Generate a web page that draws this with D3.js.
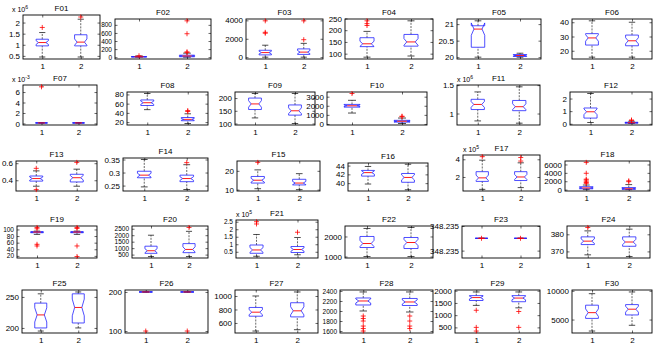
<!DOCTYPE html>
<html>
<head>
<meta charset="utf-8">
<script src="https://cdn.jsdelivr.net/npm/d3@7"></script>
<style>
  body { margin: 0; background: #fff; }
  text { font-family: "Liberation Sans", Arial, sans-serif; fill: #000; }
</style>
</head>
<body>
<svg id="chart" width="654" height="349"></svg>
<script>
// ---- data: one [run1, run2] pair per function, values in the units shown on each axis
var names = ["F01","F02","F03","F04","F05","F06","F07","F08","F09","F10",
             "F11","F12","F13","F14","F15","F16","F17","F18","F19","F20",
             "F21","F22","F23","F24","F25","F26","F27","F28","F29","F30"];

var exponents = [6,0,0,0,0,0,-3,0,0,0, 6,0,0,0,0,0,5,0,0,0, 5,0,0,0,0,0,0,0,0,0];

var whiskerLo = [[0.45,0.45],[0,0],[0,0],[85,90],[20.0,20.0],[15.5,15.5],[0.05,0.05],[47,17],[122,100],[1200,50],
                 [0.87,0.83],[0.1,0.02],[0.33,0.33],[0.245,0.235],[10.5,10],[39.8,38.5],[0.6,0.8],[0,0],[85,85],[350,350],
                 [0.2,0.3],[1000,1000],[348.23525,348.23525],[368,367],[195,200],[200,200],[480,500],[2000,1980],[1400,1300],[3000,4000]];

var q1 = [[0.95,0.95],[5,10],[250,300],[130,132],[20.3,20.02],[24,23.5],[0.08,0.08],[56,23],[155,133],[1850,200],
          [1.07,1.05],[0.45,0.05],[0.39,0.38],[0.28,0.265],[13.5,12.5],[41.6,40.2],[1.5,1.6],[200,100],[90,90],[600,650],
          [0.4,0.45],[1450,1400],[348.23525,348.23525],[374,373],[200,208],[200,200],[700,690],[2120,2110],[1600,1550],[5200,5800]];

var median = [[1.1,1.12],[10,30],[500,550],[142,150],[20.85,20.05],[29,27],[0.1,0.1],[62,26],[177,150],[2000,300],
              [1.16,1.12],[0.95,0.08],[0.42,0.43],[0.29,0.277],[15,13.5],[42.4,41.3],[1.9,2.0],[400,200],[92,92],[800,900],
              [0.62,0.65],[1650,1700],[348.23525,348.23525],[376,375.5],[221,233],[200,200],[760,780],[2200,2180],[1720,1700],[6200,6800]];

var q3 = [[1.25,1.45],[15,50],[750,900],[168,182],[20.95,20.08],[32,31],[0.12,0.12],[68,30],[200,173],[2150,400],
          [1.25,1.23],[1.25,0.12],[0.45,0.47],[0.305,0.29],[17,15.5],[42.9,42.2],[2.6,2.6],[700,500],[93,93],[1150,1350],
          [0.95,0.85],[2000,1950],[348.23525,348.23525],[378.5,378.5],[240,255],[200,200],[830,900],[2260,2250],[1800,1800],[7500,7600]];

var whiskerHi = [[1.55,2.15],[30,100],[1300,1500],[195,240],[21.1,20.12],[41,40],[0.15,0.15],[82,38],[218,218],[2600,650],
                 [1.38,1.47],[2.4,0.2],[0.51,0.53],[0.35,0.33],[20.5,18.5],[43.8,44.3],[3.9,3.6],[1100,1200],[95,95],[2000,2300],
                 [1.65,1.45],[2400,2450],[348.23525,348.23525],[382,383],[255,258],[200,200],[1000,1060],[2380,2380],[1950,1950],[9500,9800]];

var outliers = [[[1.78],[2.25]], [[35],[120,130,580,900]], [[2600,2700,3950],[1900,3950]], [[220,228,240],[]], [[],[]],
                [[],[]], [[7.0],[]], [[],[43,45]], [[],[]], [[3350],[800,850]],
                [[],[]], [[],[0.25,0.3]], [[0.54,0.29],[0.61]], [[],[0.338]], [[24.5],[]],
                [[],[]], [[4.3],[3.8,4.2]], [[1500,1700,2000,2300,2500,3900,6500],[1900,2100]], [[102,106,55,50],[103,106,50,18]], [[],[2600]],
                [[2.35,2.5],[1.8]], [[],[]], [[348.23525],[348.23525]], [[384],[]], [[],[]],
                [[100],[100]], [[],[]], [[1900,1850,1800,1700,1650,1600],[1900,1800,1700,1650]], [[1200,500,350],[1150,500]], [[],[]]];

var yTicks = [[0.5,1,1.5,2],[0,200,400,600,800],[0,2000,4000],[100,150,200,250],[20,20.5,21],[20,30,40],
              [0,2,4,6],[20,40,60,80],[100,150,200],[0,1000,2000,3000],[1,1.5],[0,1,2],
              [0.4,0.6],[0.25,0.3,0.35],[10,20],[40,42,44],[2,4],[0,2000,4000,6000],
              [20,40,60,80,100],[500,1000,1500,2000,2500],[0.5,1,1.5,2,2.5],[1000,2000],[348.2352,348.2353],[370,380],
              [200,250],[100,200],[600,800,1000],[1600,1800,2000,2200,2400],[500,1000,1500,2000],[5000,10000]];

var groups = [1, 2];
var runs = 30;

// ---- layout: plot box of each panel [left, right, top, bottom]
var frames = [[23,100,15,59],[115,211,19,59],[246,323,19,59],[345,433,19,59],[457,541,19,59],[572,652,19,59],
              [23,97,85,125],[127,208,92,125],[235,315,92,125],[327,427,92,125],[457,540,85,125],[570,652,92,125],
              [16,97,161,191],[123,208,158,191],[237,320,161,191],[348,428,163,191],[463,540,155,191],[565,650,161,191],
              [17,97,226,258],[132,208,226,258],[236,318,220,258],[345,433,226,258],[462,540,226,258],[567,650,226,258],
              [22,97,290,333],[125,208,290,333],[235,318,290,333],[340,433,290,333],[455,540,290,333],[572,652,290,333]];
var expShift = { F01: -11, F07: -11 };

var svg = d3.select("#chart");
var fmt = d3.format(".3~f");

names.forEach(function (name, i)
{
  var f = frames[i];
  var g = svg.append("g");

  var x = d3.scaleLinear().domain([0.5, 2.5]).range([f[0], f[1]]);

  var vals = d3.merge([whiskerLo[i], whiskerHi[i], outliers[i][0], outliers[i][1]]);
  var ext  = d3.extent(vals);
  var pad  = (ext[1] - ext[0]) * 0.05;
  var dom  = pad > 0 ? [ext[0] - pad, ext[1] + pad] : [ext[0] - 0.00008, ext[0] + 0.00005];
  var y    = d3.scaleLinear().domain(dom).range([f[3], f[2]]);

  var labelSize = yTicks[i].length >= 5 ? 6.5 : 8;

  // axes, ticks pointing inwards on all four sides
  g.append("g").attr("class", "ylab").attr("transform", "translate(" + f[0] + ",0)")
    .call(d3.axisLeft(y).tickValues(yTicks[i]).tickFormat(fmt).tickSizeInner(-2.5).tickSizeOuter(0).tickPadding(3));
  g.append("g").attr("transform", "translate(" + f[1] + ",0)")
    .call(d3.axisRight(y).tickValues(yTicks[i]).tickFormat("").tickSizeInner(-2.5).tickSizeOuter(0));
  g.append("g").attr("transform", "translate(0," + f[3] + ")")
    .call(d3.axisBottom(x).tickValues(groups).tickFormat(d3.format("d")).tickSizeInner(-2.5).tickSizeOuter(0).tickPadding(4));
  g.append("g").attr("transform", "translate(0," + f[2] + ")")
    .call(d3.axisTop(x).tickValues(groups).tickFormat("").tickSizeInner(-2.5).tickSizeOuter(0));

  g.selectAll(".domain").remove();
  g.selectAll(".tick line").attr("stroke", "#000").attr("stroke-width", 0.6);
  g.selectAll(".tick text").attr("font-size", 8).attr("font-family", "Liberation Sans, Arial, sans-serif");
  g.selectAll(".ylab .tick text").attr("font-size", labelSize);

  g.append("rect")
    .attr("x", f[0]).attr("y", f[2]).attr("width", f[1] - f[0]).attr("height", f[3] - f[2])
    .attr("fill", "none").attr("stroke", "#000").attr("stroke-width", 0.9);

  g.append("text")
    .attr("x", (f[0] + f[1]) / 2).attr("y", f[2] - 4)
    .attr("text-anchor", "middle").attr("font-size", 8)
    .text(name);

  if (exponents[i] !== 0)
  {
    var t = g.append("text")
      .attr("x", f[0] + (expShift[name] || 0)).attr("y", f[2] - 3)
      .attr("font-size", 7);
    t.append("tspan").text("x 10");
    t.append("tspan").attr("dy", -3).attr("font-size", 5).text(exponents[i]);
  }

  // boxes
  var half  = (x(1.16) - x(1));
  var inner = half * 0.6;
  var cap   = half * 0.5;

  groups.forEach(function (k, j)
  {
    var cx  = x(k);
    var med = median[i][j];
    var iqr = q3[i][j] - q1[i][j];
    var nlo = med - 1.57 * iqr / Math.sqrt(runs);
    var nhi = med + 1.57 * iqr / Math.sqrt(runs);

    // whiskers
    [[q3[i][j], whiskerHi[i][j]], [whiskerLo[i][j], q1[i][j]]].forEach(function (w)
    {
      g.append("line")
        .attr("x1", cx).attr("x2", cx).attr("y1", y(w[0])).attr("y2", y(w[1]))
        .attr("stroke", "#000").attr("stroke-width", 0.6).attr("stroke-dasharray", "2,1.2");
    });
    [whiskerLo[i][j], whiskerHi[i][j]].forEach(function (v)
    {
      g.append("line")
        .attr("x1", cx - cap).attr("x2", cx + cap).attr("y1", y(v)).attr("y2", y(v))
        .attr("stroke", "#000").attr("stroke-width", 0.7);
    });

    // notched box
    var pts = [[cx - half, q1[i][j]], [cx - half, nlo], [cx - inner, med], [cx - half, nhi], [cx - half, q3[i][j]],
               [cx + half, q3[i][j]], [cx + half, nhi], [cx + inner, med], [cx + half, nlo], [cx + half, q1[i][j]]];
    g.append("path")
      .attr("d", d3.line().x(function (p) { return p[0]; }).y(function (p) { return y(p[1]); })(pts) + "Z")
      .attr("fill", "none").attr("stroke", "#2222ff").attr("stroke-width", 0.8);

    g.append("line")
      .attr("x1", cx - inner).attr("x2", cx + inner).attr("y1", y(med)).attr("y2", y(med))
      .attr("stroke", "#ff0000").attr("stroke-width", 0.9);

    // outliers
    outliers[i][j].forEach(function (v)
    {
      var py = y(v);
      g.append("path")
        .attr("d", "M" + (cx - 2.5) + "," + py + "h5M" + cx + "," + (py - 2.5) + "v5")
        .attr("stroke", "#ff0000").attr("stroke-width", 0.8).attr("fill", "none");
    });
  });
});
</script>
</body>
</html>
